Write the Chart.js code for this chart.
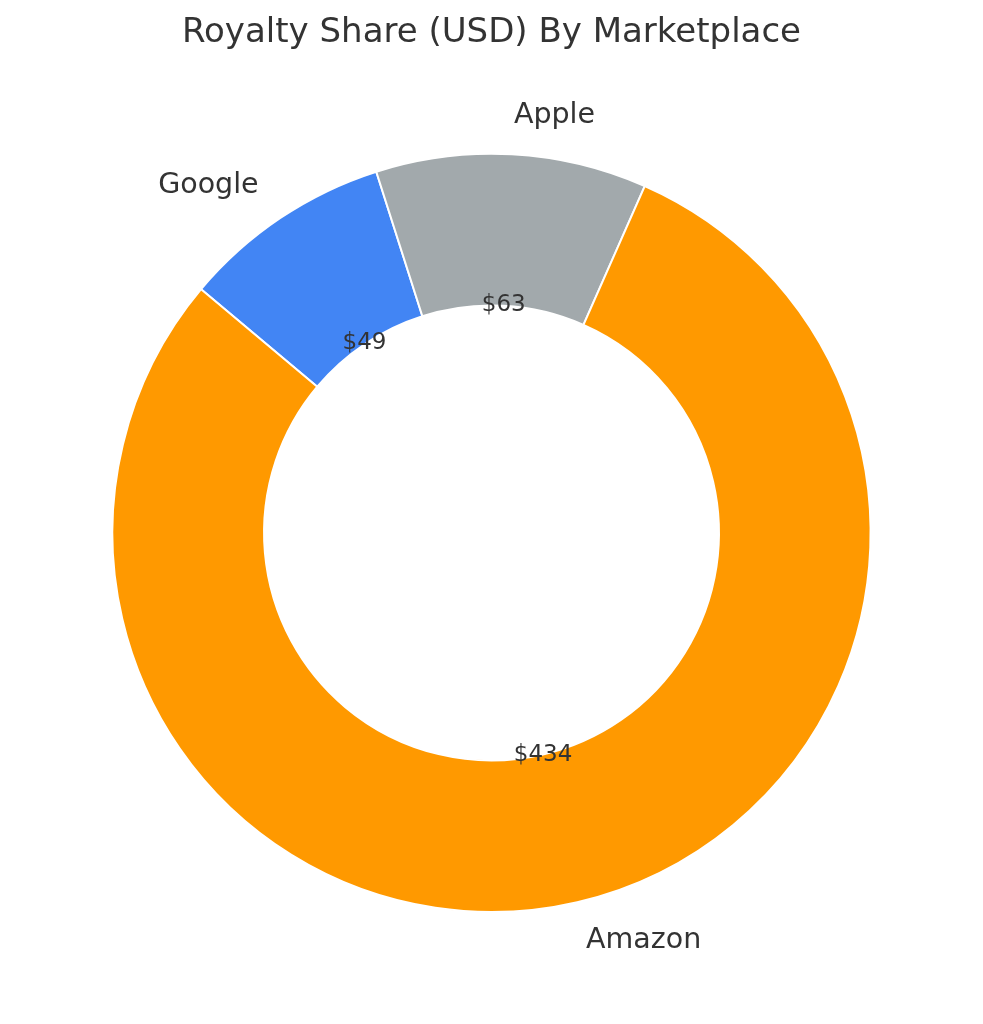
<!DOCTYPE html>
<html>
<head>
<meta charset="utf-8">
<script src="https://cdn.jsdelivr.net/npm/chart.js@4/dist/chart.umd.min.js"></script>
<style>
  html, body { margin: 0; padding: 0; background: #fff; }
  #wrap { width: 983px; height: 1024px; }
</style>
</head>
<body>
<div id="wrap"><canvas id="c" width="983" height="1024"></canvas></div>
<script>
// clockwise from the top, starting at the Google slice
const categories = ['Google', 'Apple', 'Amazon'];
const royalties = [49, 63, 434];
const sliceColors = ['#4285F4', '#A2A9AC', '#FF9900'];
const valueLabels = ['$49', '$63', '$434'];

const FONT = '"DejaVu Sans", sans-serif';
const TEXT = '#333333';

// outer names + values on the inner edge, like matplotlib's pie labels
const pieLabels = {
  id: 'pieLabels',
  afterDatasetsDraw(chart) {
    const ctx = chart.ctx;
    const arcs = chart.getDatasetMeta(0).data;
    ctx.save();
    ctx.fillStyle = TEXT;
    ctx.textBaseline = 'middle';
    arcs.forEach((arc, i) => {
      const p = arc.getProps(['x', 'y', 'startAngle', 'endAngle', 'outerRadius'], true);
      const mid = (p.startAngle + p.endAngle) / 2;
      const R = p.outerRadius + 1;
      // category name at 1.1 R
      const lx = p.x + Math.cos(mid) * R * 1.1;
      const ly = p.y + Math.sin(mid) * R * 1.1;
      ctx.font = '28.5px ' + FONT;
      ctx.textAlign = Math.cos(mid) > 0 ? 'left' : 'right';
      ctx.fillText(categories[i], lx, ly);
      // value at 0.6 R
      const vx = p.x + Math.cos(mid) * R * 0.6;
      const vy = p.y + Math.sin(mid) * R * 0.6;
      ctx.font = '23px ' + FONT;
      ctx.textAlign = 'center';
      ctx.fillText(valueLabels[i], vx, vy);
    });
    ctx.restore();
  }
};

new Chart(document.getElementById('c'), {
  type: 'doughnut',
  data: {
    labels: categories,
    datasets: [{
      data: royalties,
      backgroundColor: sliceColors,
      borderColor: '#ffffff',
      borderWidth: 2
    }]
  },
  options: {
    responsive: false,
    animation: false,
    devicePixelRatio: 1,
    rotation: -50,
    cutout: '60%',
    layout: { padding: { top: 0, bottom: 111, left: 0, right: 0 } },
    plugins: {
      legend: { display: false },
      tooltip: { enabled: false },
      title: {
        display: true,
        text: 'Royalty Share (USD) By Marketplace',
        color: TEXT,
        font: { family: FONT, size: 34, weight: 'normal', lineHeight: 1.2 },
        padding: { top: 13, bottom: 99 }
      }
    }
  },
  plugins: [pieLabels]
});
</script>
</body>
</html>
